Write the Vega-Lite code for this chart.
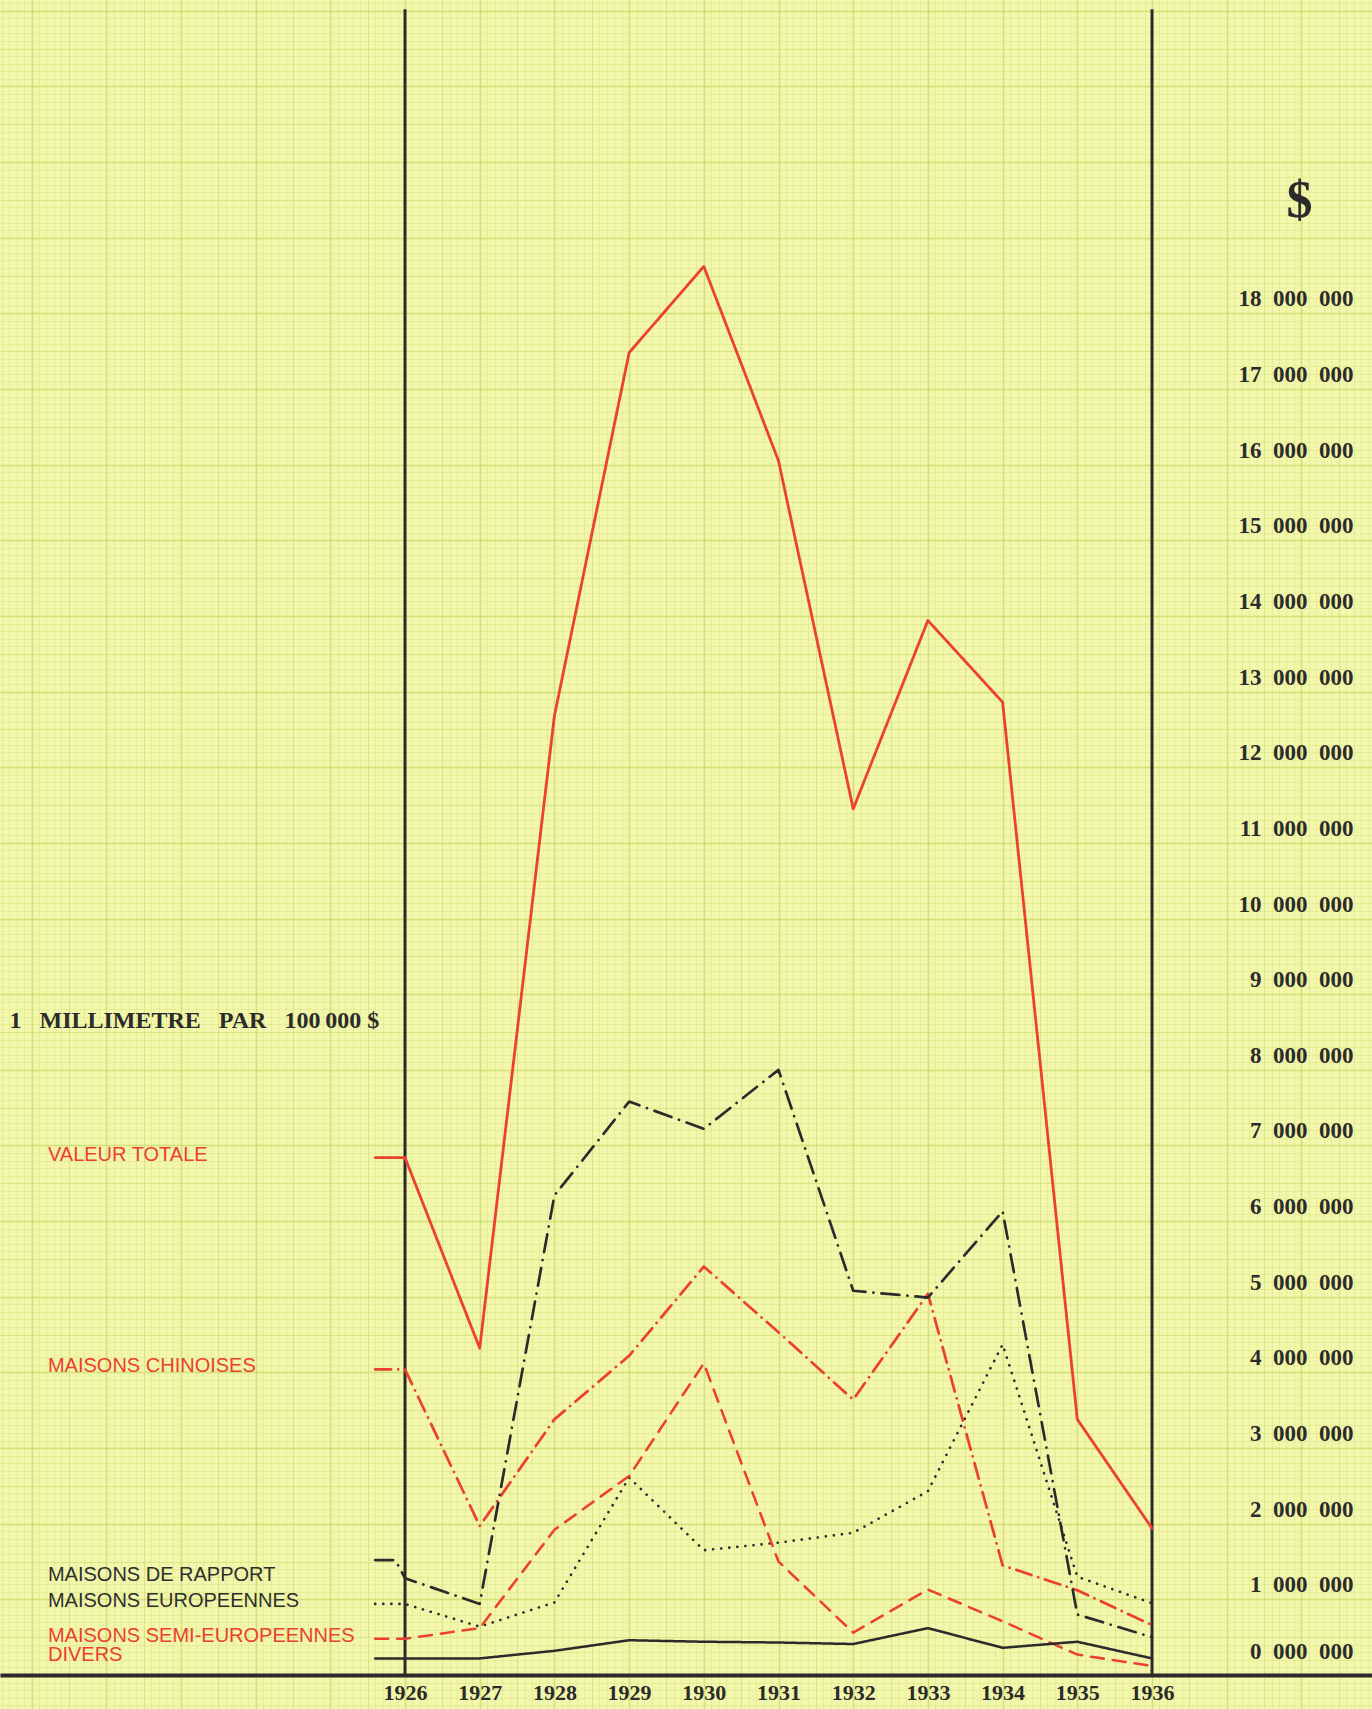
{
  "$schema": "https://vega.github.io/schema/vega-lite/v6.json",
  "width": 1372,
  "height": 1709,
  "autosize": {"type": "none"},
  "padding": 0,
  "background": "#f3f7ae",
  "config": {"view": {"stroke": null}},
  "datasets": {
    "series": [
      {"annee": 1925.6, "valeur": 6.84, "serie": "VALEUR TOTALE"},
      {"annee": 1926, "valeur": 6.84, "serie": "VALEUR TOTALE"},
      {"annee": 1927, "valeur": 4.32, "serie": "VALEUR TOTALE"},
      {"annee": 1928, "valeur": 12.68, "serie": "VALEUR TOTALE"},
      {"annee": 1929, "valeur": 17.48, "serie": "VALEUR TOTALE"},
      {"annee": 1930, "valeur": 18.62, "serie": "VALEUR TOTALE"},
      {"annee": 1931, "valeur": 16.05, "serie": "VALEUR TOTALE"},
      {"annee": 1932, "valeur": 11.45, "serie": "VALEUR TOTALE"},
      {"annee": 1933, "valeur": 13.94, "serie": "VALEUR TOTALE"},
      {"annee": 1934, "valeur": 12.86, "serie": "VALEUR TOTALE"},
      {"annee": 1935, "valeur": 3.38, "serie": "VALEUR TOTALE"},
      {"annee": 1936, "valeur": 1.94, "serie": "VALEUR TOTALE"},
      {"annee": 1925.6, "valeur": 4.04, "serie": "MAISONS CHINOISES"},
      {"annee": 1926, "valeur": 4.04, "serie": "MAISONS CHINOISES"},
      {"annee": 1927, "valeur": 1.97, "serie": "MAISONS CHINOISES"},
      {"annee": 1928, "valeur": 3.38, "serie": "MAISONS CHINOISES"},
      {"annee": 1929, "valeur": 4.22, "serie": "MAISONS CHINOISES"},
      {"annee": 1930, "valeur": 5.40, "serie": "MAISONS CHINOISES"},
      {"annee": 1931, "valeur": 4.53, "serie": "MAISONS CHINOISES"},
      {"annee": 1932, "valeur": 3.64, "serie": "MAISONS CHINOISES"},
      {"annee": 1933, "valeur": 5.04, "serie": "MAISONS CHINOISES"},
      {"annee": 1934, "valeur": 1.45, "serie": "MAISONS CHINOISES"},
      {"annee": 1935, "valeur": 1.12, "serie": "MAISONS CHINOISES"},
      {"annee": 1936, "valeur": 0.66, "serie": "MAISONS CHINOISES"},
      {"annee": 1925.6, "valeur": 1.52, "serie": "MAISONS DE RAPPORT"},
      {"annee": 1925.87, "valeur": 1.52, "serie": "MAISONS DE RAPPORT"},
      {"annee": 1926, "valeur": 1.28, "serie": "MAISONS DE RAPPORT"},
      {"annee": 1927, "valeur": 0.94, "serie": "MAISONS DE RAPPORT"},
      {"annee": 1928, "valeur": 6.34, "serie": "MAISONS DE RAPPORT"},
      {"annee": 1929, "valeur": 7.58, "serie": "MAISONS DE RAPPORT"},
      {"annee": 1930, "valeur": 7.22, "serie": "MAISONS DE RAPPORT"},
      {"annee": 1931, "valeur": 8.00, "serie": "MAISONS DE RAPPORT"},
      {"annee": 1932, "valeur": 5.08, "serie": "MAISONS DE RAPPORT"},
      {"annee": 1933, "valeur": 4.99, "serie": "MAISONS DE RAPPORT"},
      {"annee": 1934, "valeur": 6.13, "serie": "MAISONS DE RAPPORT"},
      {"annee": 1935, "valeur": 0.80, "serie": "MAISONS DE RAPPORT"},
      {"annee": 1936, "valeur": 0.50, "serie": "MAISONS DE RAPPORT"},
      {"annee": 1925.6, "valeur": 0.94, "serie": "MAISONS EUROPEENNES"},
      {"annee": 1926, "valeur": 0.94, "serie": "MAISONS EUROPEENNES"},
      {"annee": 1927, "valeur": 0.64, "serie": "MAISONS EUROPEENNES"},
      {"annee": 1928, "valeur": 0.96, "serie": "MAISONS EUROPEENNES"},
      {"annee": 1929, "valeur": 2.61, "serie": "MAISONS EUROPEENNES"},
      {"annee": 1930, "valeur": 1.65, "serie": "MAISONS EUROPEENNES"},
      {"annee": 1931, "valeur": 1.75, "serie": "MAISONS EUROPEENNES"},
      {"annee": 1932, "valeur": 1.88, "serie": "MAISONS EUROPEENNES"},
      {"annee": 1933, "valeur": 2.43, "serie": "MAISONS EUROPEENNES"},
      {"annee": 1934, "valeur": 4.37, "serie": "MAISONS EUROPEENNES"},
      {"annee": 1935, "valeur": 1.30, "serie": "MAISONS EUROPEENNES"},
      {"annee": 1936, "valeur": 0.95, "serie": "MAISONS EUROPEENNES"},
      {"annee": 1925.6, "valeur": 0.48, "serie": "MAISONS SEMI-EUROPEENNES"},
      {"annee": 1926, "valeur": 0.48, "serie": "MAISONS SEMI-EUROPEENNES"},
      {"annee": 1927, "valeur": 0.62, "serie": "MAISONS SEMI-EUROPEENNES"},
      {"annee": 1928, "valeur": 1.92, "serie": "MAISONS SEMI-EUROPEENNES"},
      {"annee": 1929, "valeur": 2.63, "serie": "MAISONS SEMI-EUROPEENNES"},
      {"annee": 1930, "valeur": 4.12, "serie": "MAISONS SEMI-EUROPEENNES"},
      {"annee": 1931, "valeur": 1.50, "serie": "MAISONS SEMI-EUROPEENNES"},
      {"annee": 1932, "valeur": 0.56, "serie": "MAISONS SEMI-EUROPEENNES"},
      {"annee": 1933, "valeur": 1.13, "serie": "MAISONS SEMI-EUROPEENNES"},
      {"annee": 1934, "valeur": 0.71, "serie": "MAISONS SEMI-EUROPEENNES"},
      {"annee": 1935, "valeur": 0.27, "serie": "MAISONS SEMI-EUROPEENNES"},
      {"annee": 1936, "valeur": 0.12, "serie": "MAISONS SEMI-EUROPEENNES"},
      {"annee": 1925.6, "valeur": 0.22, "serie": "DIVERS"},
      {"annee": 1926, "valeur": 0.22, "serie": "DIVERS"},
      {"annee": 1927, "valeur": 0.22, "serie": "DIVERS"},
      {"annee": 1928, "valeur": 0.32, "serie": "DIVERS"},
      {"annee": 1929, "valeur": 0.46, "serie": "DIVERS"},
      {"annee": 1930, "valeur": 0.44, "serie": "DIVERS"},
      {"annee": 1931, "valeur": 0.43, "serie": "DIVERS"},
      {"annee": 1932, "valeur": 0.41, "serie": "DIVERS"},
      {"annee": 1933, "valeur": 0.62, "serie": "DIVERS"},
      {"annee": 1934, "valeur": 0.36, "serie": "DIVERS"},
      {"annee": 1935, "valeur": 0.44, "serie": "DIVERS"},
      {"annee": 1936, "valeur": 0.22, "serie": "DIVERS"}
    ]
  },
  "resolve": {"axis": {"x": "independent", "y": "independent"}},
  "layer": [
    {
      "data": {"values": [{"annee": 1926}, {"annee": 1936}]},
      "mark": {"type": "rule", "color": "#2b2b2b", "strokeWidth": 3},
      "encoding": {
        "x": {
          "field": "annee", "type": "quantitative",
          "scale": {"domain": [1920.578, 1938.945], "nice": false, "zero": false},
          "axis": {"orient": "top", "grid": true, "tickCount": 18, "labels": false, "ticks": false, "domain": false, "title": null, "gridColor": "#c8da62", "gridWidth": 1.8, "gridOpacity": 0.45}
        },
        "y": {
          "datum": 0, "type": "quantitative",
          "scale": {"domain": [-0.449, 22.142], "nice": false, "zero": false},
          "axis": {"orient": "left", "grid": true, "tickCount": 22, "labels": false, "ticks": false, "domain": false, "title": null, "gridColor": "#c8da62", "gridWidth": 1.8, "gridOpacity": 0.45}
        },
        "y2": {"datum": 22.02}
      }
    },
    {
      "data": {"name": "series"},
      "transform": [{"filter": "datum.annee === 1926"}],
      "mark": {"type": "text", "align": "left", "baseline": "middle", "font": "Liberation Sans", "fontSize": 20, "dy": -3},
      "encoding": {
        "x": {
          "datum": 1921.22, "type": "quantitative",
          "scale": {"domain": [1920.578, 1938.945], "nice": false, "zero": false},
          "axis": {"orient": "top", "grid": true, "tickCount": 180, "labels": false, "ticks": false, "domain": false, "title": null, "gridColor": "#cfdf72", "gridWidth": 0.9, "gridOpacity": 0.45}
        },
        "y": {
          "field": "valeur", "type": "quantitative",
          "scale": {"domain": [-0.449, 22.142], "nice": false, "zero": false},
          "axis": {"orient": "left", "grid": true, "tickCount": 220, "labels": false, "ticks": false, "domain": false, "title": null, "gridColor": "#cfdf72", "gridWidth": 0.9, "gridOpacity": 0.45}
        },
        "text": {"field": "serie", "type": "nominal"},
        "fill": {
          "field": "serie", "type": "nominal", "legend": null,
          "scale": {
            "domain": ["VALEUR TOTALE", "MAISONS CHINOISES", "MAISONS DE RAPPORT", "MAISONS EUROPEENNES", "MAISONS SEMI-EUROPEENNES", "DIVERS"],
            "range": ["#ec4030", "#ec4030", "#2f2f2f", "#2f2f2f", "#ec4030", "#ec4030"]
          }
        }
      }
    },
    {
      "data": {"values": [{"note": "1\u2002\u00a0MILLIMETRE\u2002\u00a0PAR\u2002\u00a0100\u2009000 $"}]},
      "mark": {"type": "text", "align": "left", "baseline": "middle", "font": "Liberation Serif", "fontWeight": "bold", "fontSize": 24, "color": "#2b2b2b"},
      "encoding": {
        "x": {
          "datum": 1920.705, "type": "quantitative",
          "scale": {"domain": [1920.578, 1938.945], "nice": false, "zero": false},
          "axis": {"orient": "top", "grid": true, "tickCount": 37, "labels": false, "ticks": false, "domain": false, "title": null, "gridColor": "#cbdc68", "gridWidth": 1.1, "gridOpacity": 0.4}
        },
        "y": {
          "datum": 8.64, "type": "quantitative",
          "scale": {"domain": [-0.449, 22.142], "nice": false, "zero": false},
          "axis": {"orient": "left", "grid": true, "tickCount": 45, "labels": false, "ticks": false, "domain": false, "title": null, "gridColor": "#cbdc68", "gridWidth": 1.1, "gridOpacity": 0.4}
        },
        "text": {"field": "note", "type": "nominal"}
      }
    },
    {
      "data": {"name": "series"},
      "mark": {"type": "line", "strokeCap": "round", "strokeJoin": "round"},
      "encoding": {
        "x": {
          "field": "annee", "type": "quantitative",
          "scale": {"domain": [1920.578, 1938.945], "nice": false, "zero": false},
          "axis": {"orient": "bottom", "values": [1926, 1927, 1928, 1929, 1930, 1931, 1932, 1933, 1934, 1935, 1936], "format": "d", "offset": -34, "grid": false, "domainColor": "#2b2b2b", "domainWidth": 4, "ticks": false, "tickSize": 0, "labelPadding": 24, "labelBaseline": "alphabetic", "labelFont": "Liberation Serif", "labelFontWeight": "bold", "labelFontSize": 22, "labelColor": "#2b2b2b", "labelFlush": false, "labelOverlap": false, "title": null}
        },
        "y": {
          "field": "valeur", "type": "quantitative",
          "scale": {"domain": [-0.449, 22.142], "nice": false, "zero": false},
          "axis": {"orient": "right", "values": [0, 1, 2, 3, 4, 5, 6, 7, 8, 9, 10, 11, 12, 13, 14, 15, 16, 17, 18], "offset": -19, "grid": false, "domain": false, "ticks": false, "tickSize": 0, "labelPadding": 0, "labelAlign": "right", "labelBaseline": "alphabetic", "labelOffset": {"condition": {"test": "datum.value === 0", "value": -17}, "value": -7.5}, "labelExpr": "datum.value + '\u2002000\u2002000'", "labelFont": "Liberation Serif", "labelFontWeight": "bold", "labelFontSize": 23, "labelColor": "#2b2b2b", "labelFlush": false, "labelOverlap": false, "title": "$", "titleAngle": 0, "titleX": -54, "titleY": 200, "titleAlign": "center", "titleBaseline": "middle", "titleFont": "Liberation Serif", "titleFontWeight": "bold", "titleFontSize": 52, "titleColor": "#2b2b2b"}
        },
        "detail": {"field": "serie", "type": "nominal"},
        "stroke": {
          "field": "serie", "type": "nominal", "legend": null,
          "scale": {
            "domain": ["VALEUR TOTALE", "MAISONS CHINOISES", "MAISONS DE RAPPORT", "MAISONS EUROPEENNES", "MAISONS SEMI-EUROPEENNES", "DIVERS"],
            "range": ["#ec4030", "#ec4030", "#2b2b2b", "#2b2b2b", "#ec4030", "#2b2b2b"]
          }
        },
        "strokeDash": {
          "field": "serie", "type": "nominal", "legend": null,
          "scale": {
            "domain": ["VALEUR TOTALE", "MAISONS CHINOISES", "MAISONS DE RAPPORT", "MAISONS EUROPEENNES", "MAISONS SEMI-EUROPEENNES", "DIVERS"],
            "range": [[1, 0], [16, 7, 0.1, 7], [18, 8, 0.1, 8], [0.1, 8], [13, 9], [1, 0]]
          }
        },
        "strokeWidth": {
          "field": "serie", "type": "nominal", "legend": null,
          "scale": {
            "domain": ["VALEUR TOTALE", "MAISONS CHINOISES", "MAISONS DE RAPPORT", "MAISONS EUROPEENNES", "MAISONS SEMI-EUROPEENNES", "DIVERS"],
            "range": [2.8, 2.5, 2.5, 3.8, 2.7, 3.8]
          }
        }
      }
    }
  ]
}
